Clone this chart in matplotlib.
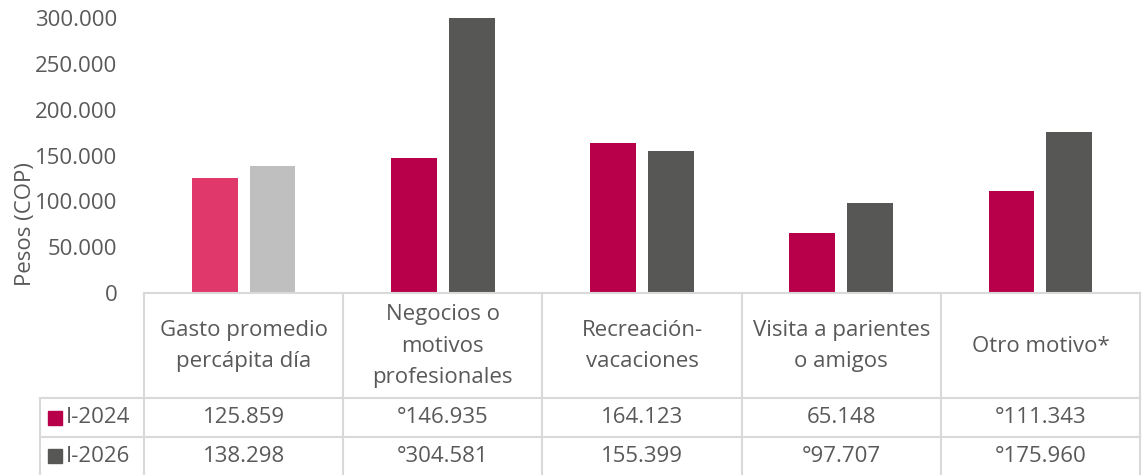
import matplotlib
matplotlib.use("Agg")
import matplotlib.pyplot as plt
from matplotlib.ticker import FuncFormatter, MultipleLocator
from matplotlib.lines import Line2D
import numpy as np

# ==============================================================================
# Data
# ==============================================================================
categories = ["Gasto promedio\npercápita día", "Negocios o\nmotivos\nprofesionales",
              "Recreación-\nvacaciones", "Visita a parientes\no amigos", "Otro motivo*"]
series_names = ["I-2024", "I-2026"]
values_2024 = [125859, 146935, 164123, 65148, 111343]
values_2026 = [138298, 304581, 155399, 97707, 175960]
labels_2024 = ["125.859", "°146.935", "164.123", "65.148", "°111.343"]
labels_2026 = ["138.298", "°304.581", "155.399", "°97.707", "°175.960"]

# first category is highlighted with lighter tones
colors_2024 = ["#E0386A"] + ["#B8004A"] * 4
colors_2026 = ["#BFBFBF"] + ["#575756"] * 4
legend_colors = ["#B8004A", "#575756"]

TXT = "#595959"
GRID = "#D9D9D9"
plt.rcParams["font.family"] = ["Open Sans", "DejaVu Sans"]

W, H = 1142, 475
fig = plt.figure(figsize=(W / 100, H / 100), dpi=100)
ax_left, ax_right, ax_top, ax_bot = 144, 1140, 18, 293
ax = fig.add_axes([ax_left / W, 1 - ax_bot / H, (ax_right - ax_left) / W, (ax_bot - ax_top) / H])

x = np.arange(len(categories))
bw = 0.23
off = 0.145
ax.bar(x - off, values_2024, width=bw, color=colors_2024, zorder=2)
ax.bar(x + off, values_2026, width=bw, color=colors_2026, zorder=2)

fs = 16
ax.set_xlim(-0.5, len(categories) - 0.5)
ax.set_ylim(0, 300000)
ax.yaxis.set_major_locator(MultipleLocator(50000))
ax.yaxis.set_major_formatter(FuncFormatter(lambda v, p: f"{int(v):,}".replace(",", ".")))
ax.tick_params(axis="y", length=0, labelsize=fs, labelcolor=TXT, pad=19)
ax.set_xticks([])
for s in ["top", "right", "left"]:
    ax.spines[s].set_visible(False)
ax.spines["bottom"].set_color(GRID)
ax.spines["bottom"].set_linewidth(1.5)
ax.set_ylabel("Pesos (COP)", fontsize=16, color=TXT)
ax.yaxis.set_label_coords((36 - ax_left) / (ax_right - ax_left), (ax_bot - 224) / (ax_bot - ax_top))

# ==============================================================================
# Data table under the chart (drawn by hand, Excel style)
# ==============================================================================
def yfrac(py):
    return (ax_bot - py) / (ax_bot - ax_top)

per_cat = (ax_right - ax_left) / len(categories)
def xdata(px):
    return -0.5 + (px - ax_left) / per_cat

y_head_bot = yfrac(398)
y_row1_bot = yfrac(437)
y_bottom = yfrac(480)
x_leg_left = xdata(40)
trans = ax.get_xaxis_transform()

line_kw = dict(color=GRID, lw=1.5, transform=trans, clip_on=False)
for b in np.arange(len(categories) + 1) - 0.5:
    ax.add_line(Line2D([b, b], [0, y_bottom], **line_kw))
ax.add_line(Line2D([x_leg_left, x_leg_left], [y_head_bot, y_bottom], **line_kw))
for yy in [y_head_bot, y_row1_bot]:
    ax.add_line(Line2D([x_leg_left, len(categories) - 0.5], [yy, yy], **line_kw))

for i, cat in enumerate(categories):
    ax.text(i, yfrac(346), cat, transform=trans, ha="center", va="center",
            fontsize=fs, color=TXT, linespacing=1.67)
    ax.text(i, (y_head_bot + y_row1_bot) / 2, labels_2024[i], transform=trans,
            ha="center", va="center", fontsize=fs, color=TXT)
    ax.text(i, (y_row1_bot + yfrac(475)) / 2, labels_2026[i], transform=trans,
            ha="center", va="center", fontsize=fs, color=TXT)

rows_y = [(y_head_bot + y_row1_bot) / 2, (y_row1_bot + yfrac(475)) / 2]
for name, col, yy in zip(series_names, legend_colors, rows_y):
    ax.plot([xdata(55)], [yy], marker="s", ms=10, color=col, transform=trans, clip_on=False)
    ax.text(xdata(66), yy, name, transform=trans, ha="left", va="center", fontsize=fs, color=TXT)

fig.savefig("out.png", dpi=100)
